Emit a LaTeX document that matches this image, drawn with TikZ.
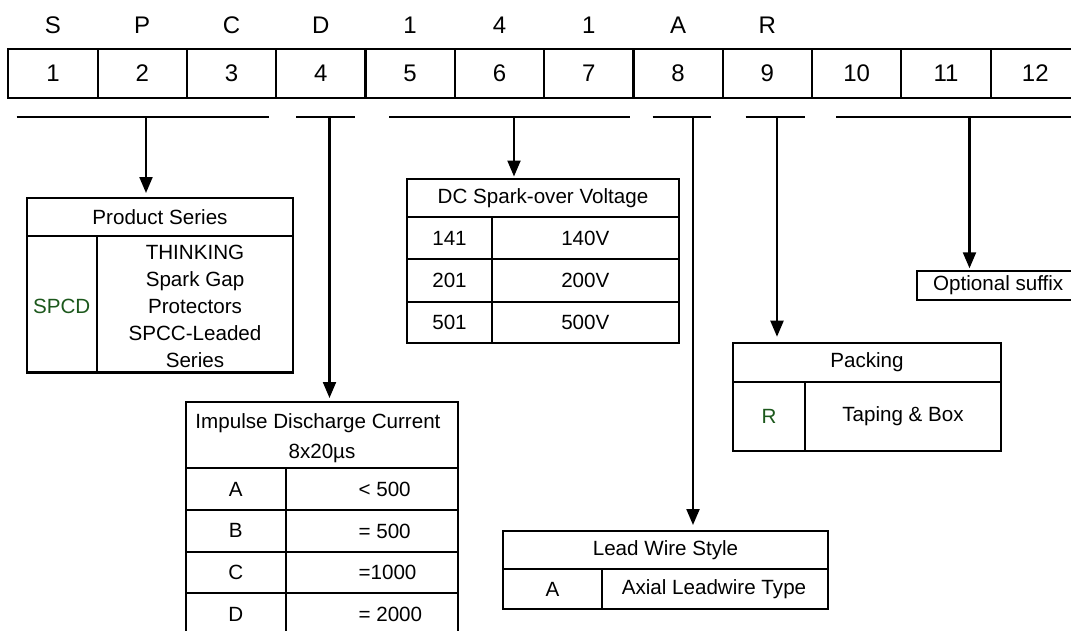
\documentclass[tikz,border=0pt]{standalone}
\usepackage{fontspec}
\setmainfont{Liberation Sans}
\usetikzlibrary{arrows.meta}
\definecolor{codegreen}{RGB}{28,88,28}

\begin{document}
\begin{tikzpicture}[x=1pt, y=-1pt, line width=2.2pt,
  >={Triangle[width=13pt,length=16pt]},
  big/.style={font=\fontsize{24}{28}\selectfont, inner sep=0pt},
  txt/.style={font=\fontsize{20.6}{27}\selectfont, inner sep=0pt}]
  \useasboundingbox (0,0) rectangle (1071,630);

  % パラメータ設定 (桁の枠)
  \def\xl{8.3}
  \def\w{89.3}

  % 1. 品番の文字列
  \foreach \ch [count=\i] in {S,P,C,D,1,4,1,A,R}
    \node[big] (l\i) at ({\xl+\w*(\i-0.5)}, 25.3) {\ch};

  % 2. 桁番号の枠
  \draw (\xl,49) rectangle (1085,97.7);
  \foreach \i in {1,...,11}
    \draw ({\xl+\w*\i},49) -- ({\xl+\w*\i},97.7);
  \foreach \i in {1,...,12}
    \node[big] (c\i) at ({\xl+\w*(\i-0.5)}, 73.5) {\i};

  % 3. 括弧線と分岐点
  \draw (16.5,117) -- (268.6,117);  \coordinate (b1) at (146,117);
  \draw (296.1,117) -- (354.7,117); \coordinate (b2) at (329.5,117);
  \draw (389.1,117) -- (630,117);   \coordinate (b3) at (514,117);
  \draw (652.5,117) -- (710.5,117); \coordinate (b4) at (693,117);
  \draw (745.7,117) -- (805,117);   \coordinate (b5) at (777,117);
  \draw (836,117) -- (1085,117);    \coordinate (b6) at (969.5,117);

  % 4. 矢印の先端
  \coordinate (t1) at (146,193);
  \coordinate (t2) at (329.5,398);
  \coordinate (t3) at (514,176.5);
  \coordinate (t4) at (693,525);
  \coordinate (t5) at (777,336.7);
  \coordinate (t6) at (969.5,268.3);
  \draw[->] (b1) -- (t1);
  \draw[->] (b2) -- (t2);
  \draw[->] (b3) -- (t3);
  \draw[->] (b4) -- (t4);
  \draw[->] (b5) -- (t5);
  \draw[->] (b6) -- (t6);

  % 5. Product Series
  \draw (26.7,197.7) rectangle (293.3,372.5);
  \draw (26.7,236) -- (293.3,236);
  \draw (96.7,236) -- (96.7,372.5);
  \node[txt] (psH) at (160,217.5) {Product Series};
  \node[txt, text=codegreen] (psK) at (61.7,306) {SPCD};
  \node[txt, align=center] (psV) at (195,306)
    {THINKING\\Spark Gap\\Protectors\\SPCC-Leaded\\Series};

  % 6. DC Spark-over Voltage
  \draw (407.3,179) rectangle (679,343.3);
  \draw (407.3,216.7) -- (679,216.7);
  \draw (407.3,259.3) -- (679,259.3);
  \draw (407.3,301.7) -- (679,301.7);
  \draw (491.7,216.7) -- (491.7,343.3);
  \node[txt] (dcH) at (543,198) {DC Spark-over Voltage};
  \node[txt] (dcK1) at (449.5,238) {141};
  \node[txt] (dcV1) at (585.3,238) {140V};
  \node[txt] (dcK2) at (449.5,280.5) {201};
  \node[txt] (dcV2) at (585.3,280.5) {200V};
  \node[txt] (dcK3) at (449.5,322.5) {501};
  \node[txt] (dcV3) at (585.3,322.5) {500V};

  % 7. Impulse Discharge Current
  \draw (185.7,402.3) rectangle (458.3,640);
  \draw (185.7,468.3) -- (458.3,468.3);
  \draw (185.7,510) -- (458.3,510);
  \draw (185.7,551.7) -- (458.3,551.7);
  \draw (185.7,593.3) -- (458.3,593.3);
  \draw (286,468.3) -- (286,640);
  \node[txt] (icH1) at (318,423.5) {Impulse Discharge Current};
  \node[txt] (icH2) at (322,453) {8x20µs};
  \node[txt] (icK1) at (235.8,489.2) {A};
  \node[txt, anchor=west] (icV1) at (357.5,489.2) {< 500};
  \node[txt] (icK2) at (235.8,530.9) {B};
  \node[txt, anchor=west] (icV2) at (357.5,530.9) {= 500};
  \node[txt] (icK3) at (235.8,572.5) {C};
  \node[txt, anchor=west] (icV3) at (357.5,572.5) {=1000};
  \node[txt] (icK4) at (235.8,614.5) {D};
  \node[txt, anchor=west] (icV4) at (357.5,614.5) {= 2000};

  % 8. Lead Wire Style
  \draw (502.7,531) rectangle (828.3,609.3);
  \draw (502.7,569.3) -- (828.3,569.3);
  \draw (602.3,569.3) -- (602.3,609.3);
  \node[txt] (lwH) at (665.5,550) {Lead Wire Style};
  \node[txt] (lwK) at (552.5,589.3) {A};
  \node[txt] (lwV) at (714,589.3) {Axial Leadwire Type};

  % 9. Packing
  \draw (733.3,342.7) rectangle (1001,450.7);
  \draw (733.3,381.7) -- (1001,381.7);
  \draw (805,381.7) -- (805,450.7);
  \node[txt] (pkH) at (867,362) {Packing};
  \node[txt, text=codegreen] (pkK) at (769,416) {R};
  \node[txt] (pkV) at (903,416) {Taping \& Box};

  % 10. Optional suffix
  \draw (916.7,271) rectangle (1085,300);
  \node[txt, anchor=west] (opt) at (932,285.5) {Optional suffix};

\end{tikzpicture}
\end{document}
